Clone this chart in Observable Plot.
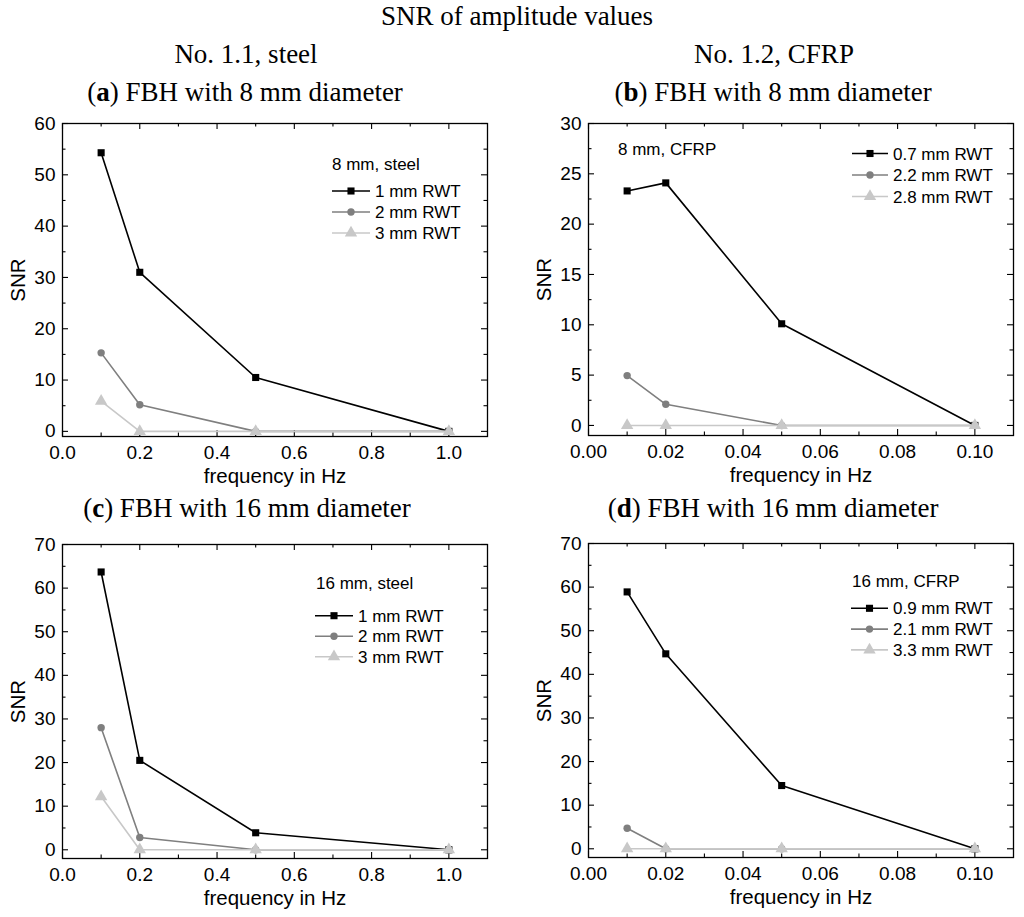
<!DOCTYPE html>
<html>
<head>
<meta charset="utf-8">
<script src="https://cdn.jsdelivr.net/npm/d3@7"></script>
<script src="https://cdn.jsdelivr.net/npm/@observablehq/plot@0.6"></script>
<style>
  html, body { margin: 0; padding: 0; background: #fff; }
  #page { position: relative; width: 1024px; height: 917px; overflow: hidden; background: #fff; }
  #page > svg.hdr { position: absolute; left: 0; top: 0; }
  .panel { position: absolute; }
  .panel svg { display: block; overflow: visible; }
</style>
</head>
<body>
<div id="page">
  <svg class="hdr" width="1024" height="917" font-family="Liberation Serif, Times New Roman, serif" font-size="27" fill="#000" text-anchor="middle">
    <text x="517" y="25">SNR of amplitude values</text>
    <text x="246" y="63">No. 1.1, steel</text>
    <text x="774" y="63">No. 1.2, CFRP</text>
    <text x="245" y="101">(<tspan font-weight="bold">a</tspan>) FBH with 8 mm diameter</text>
    <text x="773" y="101">(<tspan font-weight="bold">b</tspan>) FBH with 8 mm diameter</text>
    <text x="247" y="517">(<tspan font-weight="bold">c</tspan>) FBH with 16 mm diameter</text>
    <text x="773" y="517">(<tspan font-weight="bold">d</tspan>) FBH with 16 mm diameter</text>
  </svg>
  <div class="panel" id="pa" style="left:0px;top:110px"></div>
  <div class="panel" id="pb" style="left:512px;top:110px"></div>
  <div class="panel" id="pc" style="left:0px;top:530px"></div>
  <div class="panel" id="pd" style="left:512px;top:530px"></div>
</div>
<script>
// ---------- data ----------
const freqSteel = [0.1, 0.2, 0.5, 1.0];
const freqCFRP = [0.01, 0.02, 0.05, 0.10];

// (a) 8 mm, steel
const a_names = ["1 mm RWT", "2 mm RWT", "3 mm RWT"];
const a_1mm = [54.3, 31.0, 10.5, 0];
const a_2mm = [15.3, 5.2, 0, 0];
const a_3mm = [5.9, 0, 0, 0];

// (b) 8 mm, CFRP
const b_names = ["0.7 mm RWT", "2.2 mm RWT", "2.8 mm RWT"];
const b_07mm = [23.3, 24.1, 10.1, 0];
const b_22mm = [4.95, 2.1, 0, 0];
const b_28mm = [0, 0, 0, 0];

// (c) 16 mm, steel
const c_names = ["1 mm RWT", "2 mm RWT", "3 mm RWT"];
const c_1mm = [63.7, 20.5, 3.9, 0];
const c_2mm = [28.0, 2.8, 0, 0];
const c_3mm = [12.2, 0, 0, 0];

// (d) 16 mm, CFRP
const d_names = ["0.9 mm RWT", "2.1 mm RWT", "3.3 mm RWT"];
const d_09mm = [58.9, 44.7, 14.5, 0];
const d_21mm = [4.7, 0, 0, 0];
const d_33mm = [0, 0, 0, 0];

// tick values
const xTicksSteel = [0, 0.2, 0.4, 0.6, 0.8, 1.0];
const xMinorSteel = [0.1, 0.3, 0.5, 0.7, 0.9, 1.1];
const xTicksCFRP = [0, 0.02, 0.04, 0.06, 0.08, 0.10];
const xMinorCFRP = [0.01, 0.03, 0.05, 0.07, 0.09, 0.11];
const yTicks60 = [0, 10, 20, 30, 40, 50, 60];
const yMinor60 = [5, 15, 25, 35, 45, 55];
const yTicks30 = [0, 5, 10, 15, 20, 25, 30];
const yMinor30 = [2.5, 7.5, 12.5, 17.5, 22.5, 27.5];
const yTicks70 = [0, 10, 20, 30, 40, 50, 60, 70];
const yMinor70 = [5, 15, 25, 35, 45, 55, 65];

// ---------- styling ----------
const FONT = "Liberation Sans, Arial, sans-serif";
const styles = [
  {color: "#000000", symbol: "square", r: 4, width: 1.6},
  {color: "#7f7f7f", symbol: "circle", r: 3.7, width: 1.6},
  {color: "#c8c8c8", symbol: "triangle", r: 4.6, width: 1.6}
];
const d3sym = {square: d3.symbolSquare, circle: d3.symbolCircle, triangle: d3.symbolTriangle};

function legendMark(cfg, ml, mt, names) {
  return () => {
    const g = d3.create("svg:g").attr("font-family", FONT).attr("font-size", 17)
      .attr("fill", "#000").attr("text-anchor", "start");
    g.append("text").attr("x", ml + cfg.tx).attr("y", mt + cfg.ty).text(cfg.title);
    names.forEach((name, i) => {
      const st = styles[i];
      const cy = mt + cfg.ly + i * cfg.step;
      g.append("line").attr("x1", ml + cfg.lx1).attr("x2", ml + cfg.lx2)
        .attr("y1", cy).attr("y2", cy).attr("stroke", st.color).attr("stroke-width", st.width);
      g.append("path").attr("transform", `translate(${ml + (cfg.lx1 + cfg.lx2) / 2},${cy})`)
        .attr("d", d3.symbol(d3sym[st.symbol], Math.PI * st.r * st.r)()).attr("fill", st.color);
      g.append("text").attr("x", ml + cfg.lx2 + 5).attr("y", cy).attr("dy", "0.36em").text(name);
    });
    return g.node();
  };
}

function panel(el, o) {
  const W = 512;
  const fw = W - o.ml - o.mr;
  const fh = o.h - o.mt - o.mb;
  const marks = [];
  // inward ticks on all four sides
  const TM = 6, Tm = 3.5;
  const xm = o.xMinor.filter(v => v < o.xDomain[1] - 1e-9);
  marks.push(Plot.tickY(o.yTicks, {y: d => d, insetRight: fw - TM, stroke: "#000", strokeWidth: 1.1}));
  marks.push(Plot.tickY(o.yTicks, {y: d => d, insetLeft: fw - TM, stroke: "#000", strokeWidth: 1.1}));
  marks.push(Plot.tickY(o.yMinor, {y: d => d, insetRight: fw - Tm, stroke: "#000", strokeWidth: 1.1}));
  marks.push(Plot.tickY(o.yMinor, {y: d => d, insetLeft: fw - Tm, stroke: "#000", strokeWidth: 1.1}));
  marks.push(Plot.tickX(o.xTicks, {x: d => d, insetTop: fh - TM, stroke: "#000", strokeWidth: 1.1}));
  marks.push(Plot.tickX(o.xTicks, {x: d => d, insetBottom: fh - TM, stroke: "#000", strokeWidth: 1.1}));
  marks.push(Plot.tickX(xm, {x: d => d, insetTop: fh - Tm, stroke: "#000", strokeWidth: 1.1}));
  marks.push(Plot.tickX(xm, {x: d => d, insetBottom: fh - Tm, stroke: "#000", strokeWidth: 1.1}));
  // axes labels
  marks.push(Plot.axisY(o.yTicks, {tickSize: 0, tickPadding: 7, tickFormat: d => String(d), label: null, fontSize: 19}));
  marks.push(Plot.axisX(o.xTicks, {tickSize: 0, tickPadding: 9, tickFormat: d3.format(o.xFmt), label: null, fontSize: 19}));
  marks.push(Plot.text(["SNR"], {text: d => d, frameAnchor: "left", textAnchor: "middle", lineAnchor: "middle", dx: -44, rotate: -90, fontSize: 20.5}));
  marks.push(Plot.text(["frequency in Hz"], {text: d => d, frameAnchor: "bottom", textAnchor: "middle", lineAnchor: "middle", dy: 40, fontSize: 20.5}));
  // series
  o.series.forEach((vals, i) => {
    const st = styles[i];
    const rows = o.xs.map((x, j) => ({x, y: vals[j]}));
    marks.push(Plot.line(rows, {x: "x", y: "y", stroke: st.color, strokeWidth: st.width}));
  });
  o.series.forEach((vals, i) => {
    const st = styles[i];
    const rows = o.xs.map((x, j) => ({x, y: vals[j]}));
    marks.push(Plot.dot(rows, {x: "x", y: "y", symbol: st.symbol, r: st.r, fill: st.color, stroke: "none"}));
  });
  marks.push(Plot.frame({stroke: "#000", strokeWidth: 1.3}));
  marks.push(legendMark(o.legend, o.ml, o.mt, o.names));

  const chart = Plot.plot({
    width: W, height: o.h,
    marginLeft: o.ml, marginRight: o.mr, marginTop: o.mt, marginBottom: o.mb,
    x: {domain: o.xDomain, axis: null},
    y: {domain: o.yDomain, axis: null},
    style: {fontFamily: FONT, color: "#000", background: "transparent", overflow: "visible"},
    marks
  });
  document.getElementById(el).appendChild(chart);
}

panel("pa", {
  h: 385, ml: 62, mr: 25, mt: 13, mb: 59,
  xs: freqSteel, series: [a_1mm, a_2mm, a_3mm], names: a_names,
  xDomain: [0, 1.1], yDomain: [-1, 60],
  xTicks: xTicksSteel, xMinor: xMinorSteel, yTicks: yTicks60, yMinor: yMinor60, xFmt: ".1f",
  legend: {title: "8 mm, steel", tx: 270, ty: 47, lx1: 270, lx2: 308, ly: 68, step: 21}
});
panel("pb", {
  h: 385, ml: 76, mr: 11, mt: 13, mb: 60,
  xs: freqCFRP, series: [b_07mm, b_22mm, b_28mm], names: b_names,
  xDomain: [0, 0.11], yDomain: [-1, 30],
  xTicks: xTicksCFRP, xMinor: xMinorCFRP, yTicks: yTicks30, yMinor: yMinor30, xFmt: ".2f",
  legend: {title: "8 mm, CFRP", tx: 30, ty: 32, lx1: 264, lx2: 300, ly: 30.5, step: 21.5}
});
panel("pc", {
  h: 387, ml: 62, mr: 25, mt: 14, mb: 59,
  xs: freqSteel, series: [c_1mm, c_2mm, c_3mm], names: c_names,
  xDomain: [0, 1.1], yDomain: [-2, 70],
  xTicks: xTicksSteel, xMinor: xMinorSteel, yTicks: yTicks70, yMinor: yMinor70, xFmt: ".1f",
  legend: {title: "16 mm, steel", tx: 254, ty: 45, lx1: 253, lx2: 291, ly: 71.7, step: 20.5}
});
panel("pd", {
  h: 387, ml: 76, mr: 11, mt: 13, mb: 60,
  xs: freqCFRP, series: [d_09mm, d_21mm, d_33mm], names: d_names,
  xDomain: [0, 0.11], yDomain: [-2, 70],
  xTicks: xTicksCFRP, xMinor: xMinorCFRP, yTicks: yTicks70, yMinor: yMinor70, xFmt: ".2f",
  legend: {title: "16 mm, CFRP", tx: 264, ty: 43.7, lx1: 263, lx2: 300, ly: 65.3, step: 20.8}
});
</script>
</body>
</html>
